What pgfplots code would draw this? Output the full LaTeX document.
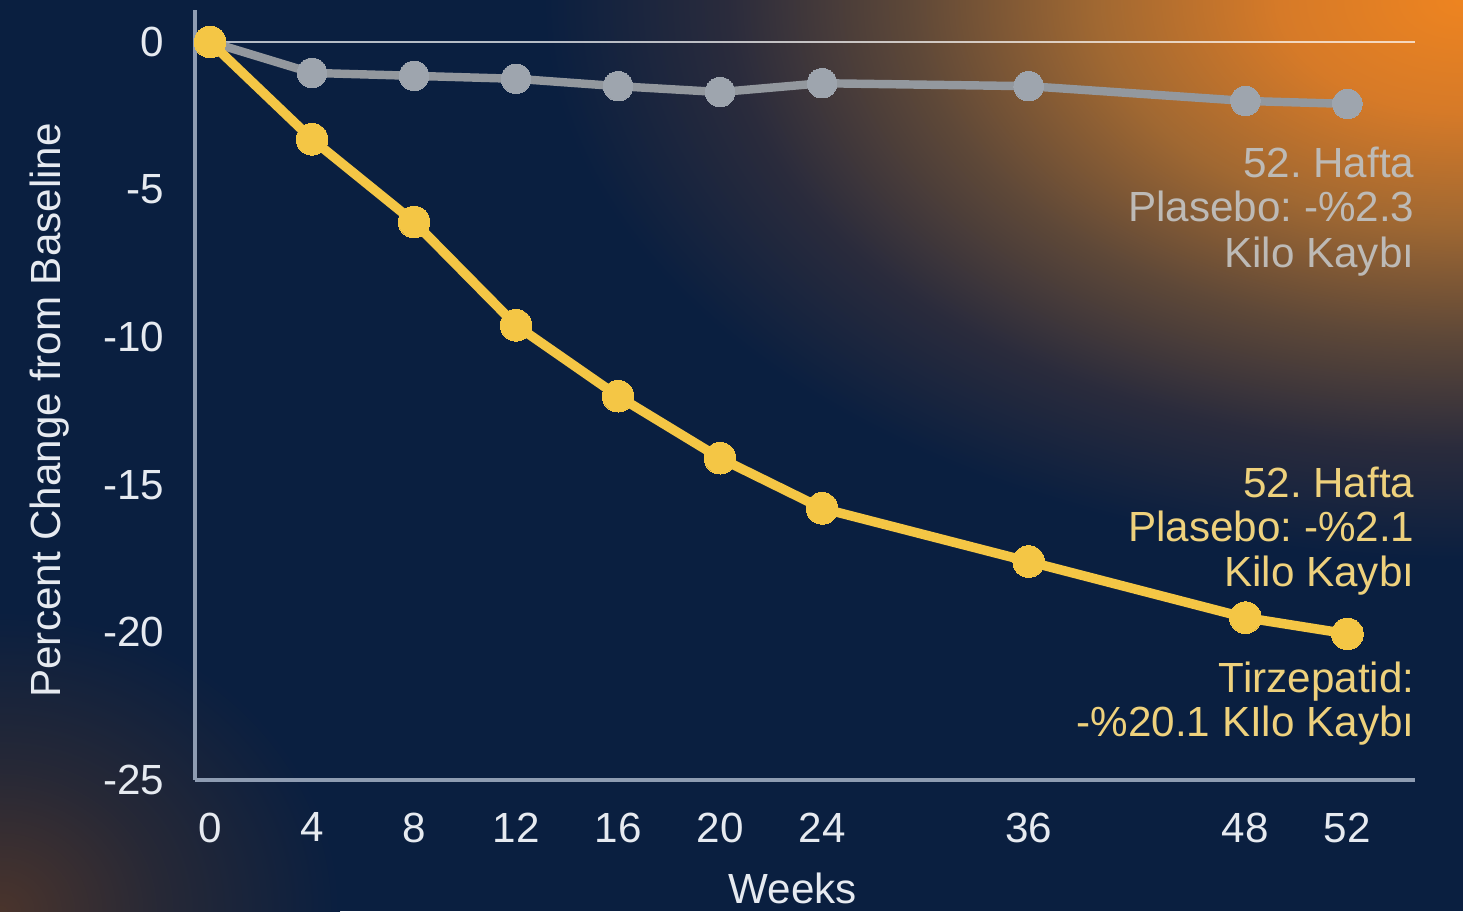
\documentclass[border=0pt]{standalone}
\usepackage{fontspec}
\setmainfont{Liberation Sans}
\usepackage{pgfplots}
\pgfplotsset{compat=1.18}
\frenchspacing
\definecolor{navy}{HTML}{0A1F40}
\definecolor{glowA}{HTML}{EE8420}
\definecolor{glowB}{HTML}{D67A28}
\definecolor{glowC}{HTML}{A06832}
\definecolor{glowD}{HTML}{5E4838}
\definecolor{glowE}{HTML}{2A2B3C}
\definecolor{bglowA}{HTML}{4A342C}
\definecolor{bglowB}{HTML}{262836}
\definecolor{goldc}{HTML}{F4C645}
\definecolor{goldt}{HTML}{EED17C}
\definecolor{grayl}{HTML}{93989E}
\definecolor{graym}{HTML}{9EA5AE}
\definecolor{grayt}{HTML}{BDBAB6}
\definecolor{axisc}{HTML}{8E9CB2}
\definecolor{labc}{HTML}{E6EAF0}
\pgfdeclareradialshading{glowTR}{\pgfpointorigin}{color(0bp)=(glowA); color(5bp)=(glowB); color(10bp)=(glowC); color(15bp)=(glowD); color(20bp)=(glowE); color(25bp)=(navy); color(50bp)=(navy)}
\pgfdeclareradialshading{glowBL}{\pgfpointorigin}{color(0bp)=(bglowA); color(12bp)=(bglowB); color(25bp)=(navy); color(50bp)=(navy)}
\begin{document}
\begin{tikzpicture}
\useasboundingbox (0,0) rectangle (146.3mm,91.1mm);
\begin{scope}
\clip (0,0) rectangle (146.3mm,91.1mm);
\fill[navy] (0,0) rectangle (146.3mm,91.1mm);
\shade[shading=glowTR] (146.3mm,91.1mm) ellipse [x radius=92mm, y radius=56mm];
\shade[shading=glowBL] (0,0) ellipse [x radius=34mm, y radius=30mm];
\end{scope}
\begin{axis}[
  at={(19.5mm,13.1mm)}, anchor=south west,
  scale only axis, width=122mm, height=77mm,
  xmin=-0.59, xmax=47.25, ymin=-25, ymax=1.08,
  axis lines=left, axis line style={-, draw=axisc, line width=1pt},
  clip=false,
  major tick length=0pt,
  xtick={0,4,8,12,16,20,24,32.1,40.6,44.6},
  xticklabels={0,4,8,12,16,20,24,36,48,52},
  ytick={-25,-20,-15,-10,-5,0},
  yticklabels={-25,-20,-15,-10,-5,0},
  every tick label/.append style={font=\fontsize{12}{14}\selectfont, text=labc},
  yticklabel style={anchor=east, inner sep=0pt, xshift=-3mm},
  xticklabel style={anchor=north, inner sep=0pt, yshift=-3.2mm},
  every axis y label/.style={at={(axis description cs:0,0.48)}, xshift=-14.5mm, anchor=center, rotate=90, font=\fontsize{12}{14}\selectfont, text=labc},
  every axis x label/.style={at={(axis description cs:0.49,0)}, yshift=-10.8mm, anchor=center, font=\fontsize{12}{14}\selectfont, text=labc},
  ylabel={Percent Change from Baseline},
  xlabel={Weeks},
]
\addplot[draw=white, draw opacity=0.7, line width=0.6pt] coordinates {(-0.59,0) (47.25,0)};
\addplot[grayl, line width=2.4pt, mark=*, mark size=4.2pt, mark options={fill=graym, draw=graym, line width=0pt}] coordinates {
(0,0) (4,-1.05) (8,-1.15) (12,-1.25) (16,-1.5) (20,-1.7) (24,-1.4) (32.1,-1.5) (40.6,-2.0) (44.6,-2.1)};
\addplot[goldc, line width=2.7pt, mark=*, mark size=4.5pt, mark options={fill=goldc, draw=goldc, line width=0pt}] coordinates {
(0,0) (4,-3.3) (8,-6.1) (12,-9.6) (16,-12.0) (20,-14.1) (24,-15.8) (32.1,-17.6) (40.6,-19.5) (44.6,-20.05)};
\begin{scope}[every node/.style={anchor=base east, inner sep=0pt, font=\fontsize{12}{14}\selectfont}]
\node[text=grayt] at (axis cs:47.25,-4.58) {52. Hafta};
\node[text=grayt] at (axis cs:47.25,-6.10) {Plasebo: -\%2.3};
\node[text=grayt] at (axis cs:47.25,-7.63) {Kilo Kaybı};
\node[text=goldt] at (axis cs:47.25,-15.42) {52. Hafta};
\node[text=goldt] at (axis cs:47.25,-16.92) {Plasebo: -\%2.1};
\node[text=goldt] at (axis cs:47.25,-18.44) {Kilo Kaybı};
\node[text=goldt] at (axis cs:47.25,-22.03) {Tirzepatid:};
\node[text=goldt] at (axis cs:47.25,-23.53) {-\%20.1 KIlo Kaybı};
\end{scope}
\end{axis}
\end{tikzpicture}
\end{document}
